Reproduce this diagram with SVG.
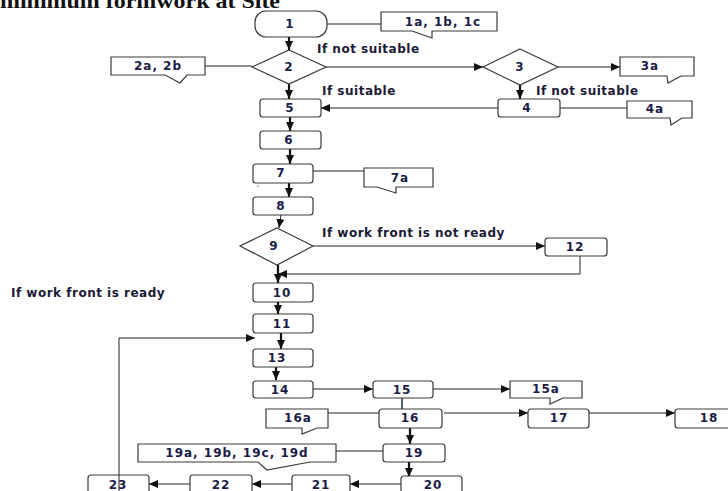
<svg xmlns="http://www.w3.org/2000/svg" width="728" height="491" viewBox="0 0 728 491">
<style>
.b{fill:#fff;stroke:#3a3a3a;stroke-width:1.2}
.t{font-family:"DejaVu Sans",Verdana,sans-serif;font-size:12px;font-weight:bold;letter-spacing:1px;fill:#1c1c48;text-anchor:middle}
.l{font-family:"DejaVu Sans",Verdana,sans-serif;font-size:12px;font-weight:bold;letter-spacing:0.5px;fill:#1a1a36}
.c{fill:none;stroke:#222;stroke-width:1}
.k{fill:none;stroke:#111;stroke-width:2.2}
</style>
<defs>
<marker id="a" markerUnits="userSpaceOnUse" markerWidth="9" markerHeight="8" refX="9" refY="4" orient="auto">
<path d="M0,0 L9,4 L0,8 z" fill="#111"/>
</marker>
</defs>
<rect width="728" height="491" fill="#fff"/>
<text x="0" y="8" textLength="280" lengthAdjust="spacingAndGlyphs" font-family="Liberation Serif, serif" font-weight="bold" font-size="22" fill="#111">minimum formwork at Site</text>

<g id="connectors">
<path class="k" d="M289,37 V50" marker-end="url(#a)"/>
<path class="c" d="M327,24 H381"/>
<path class="c" d="M205,66 H252"/>
<path class="c" d="M326,67 H483" marker-end="url(#a)"/>
<path class="c" d="M558,67 H620" marker-end="url(#a)"/>
<path class="k" d="M289,84 V99" marker-end="url(#a)"/>
<path class="k" d="M520,84 V99" marker-end="url(#a)"/>
<path class="c" d="M498,108 H321" marker-end="url(#a)"/>
<path class="c" d="M560,108 H627"/>
<path class="k" d="M290,117 V131" marker-end="url(#a)"/>
<path class="k" d="M290,149 V164" marker-end="url(#a)"/>
<path class="c" d="M313,171 H376"/>
<path class="k" d="M289,183 V197" marker-end="url(#a)"/>
<path class="c" d="M281,215 L279,228" marker-end="url(#a)"/>
<path class="c" d="M313,246 H545" marker-end="url(#a)"/>
<path class="c" d="M580,256 V274 H278" marker-end="url(#a)"/>
<path class="k" d="M278,265 V283" marker-end="url(#a)"/>
<path class="k" d="M278,302 V314" marker-end="url(#a)"/>
<path class="k" d="M281,333 V349" marker-end="url(#a)"/>
<path class="c" d="M119,491 V338 H255" marker-end="url(#a)"/>
<path class="k" d="M276,367 V380" marker-end="url(#a)"/>
<path class="c" d="M313,389 H373" marker-end="url(#a)"/>
<path class="c" d="M433,389 H510" marker-end="url(#a)"/>
<path d="M402,398 V409" stroke="#556070" stroke-width="2" fill="none"/>
<path class="c" d="M328,413 H379"/>
<path class="c" d="M444,413 H528" marker-end="url(#a)"/>
<path class="c" d="M589,413 H675" marker-end="url(#a)"/>
<path class="k" d="M410,428 V444" marker-end="url(#a)"/>
<path class="c" d="M383,451 H336"/>
<path class="k" d="M409,462 V477" marker-end="url(#a)"/>
<path class="c" d="M401,484 H350" marker-end="url(#a)"/>
<path class="c" d="M292,484 H252" marker-end="url(#a)"/>
<path class="c" d="M190,484 H149" marker-end="url(#a)"/>
</g>

<g id="n1"><rect class="b" x="255" y="11" width="72" height="26" rx="11"/><text class="t" x="290" y="28">1</text></g>
<g id="n1a"><path class="b" d="M381,12 H497 V31 H432 V38 L412,31 H381 Z"/><text class="t" x="443" y="26">1a, 1b, 1c</text></g>
<g id="n2"><path class="b" d="M289,50 L326,67 L289,84 L252,67 Z"/><text class="t" x="289" y="71">2</text></g>
<g id="n2a"><path class="b" d="M111,57 H205 V75 H187 L180,83 L165,75 H111 Z"/><text class="t" x="158" y="70">2a, 2b</text></g>
<g id="n3"><path class="b" d="M520,49 L558,67 L520,85 L483,67 Z"/><text class="t" x="520" y="71">3</text></g>
<g id="n3a"><path class="b" d="M620,57 H694 V76 H681 L668,83 L667,76 H620 Z"/><text class="t" x="650" y="70">3a</text></g>
<g id="n5"><rect class="b" x="260" y="99" width="61" height="18" rx="3"/><text class="t" x="290" y="112">5</text></g>
<g id="n4"><rect class="b" x="498" y="99" width="62" height="18" rx="3"/><text class="t" x="527" y="112">4</text></g>
<g id="n4a"><path class="b" d="M627,101 H692 V118 H682 L671,125 L670,118 H627 Z"/><text class="t" x="655" y="113">4a</text></g>
<g id="n6"><rect class="b" x="260" y="131" width="61" height="18" rx="3"/><text class="t" x="289" y="144">6</text></g>
<g id="n7"><rect class="b" x="253" y="164" width="60" height="19" rx="3"/><text class="t" x="281" y="177">7</text></g>
<g id="n7a"><path class="b" d="M364,168 H433 V187 H396 V193 L377,187 H364 Z"/><text class="t" x="400" y="182">7a</text></g>
<text x="256" y="193" font-family="DejaVu Sans, sans-serif" font-size="9" fill="#333">`</text>
<g id="n8"><rect class="b" x="253" y="197" width="60" height="18" rx="3"/><text class="t" x="281" y="210">8</text></g>
<g id="n9"><path class="b" d="M277,228 L313,246 L277,265 L240,246 Z"/><text class="t" x="274" y="250">9</text></g>
<g id="n12"><rect class="b" x="545" y="238" width="62" height="18" rx="3"/><text class="t" x="575" y="251">12</text></g>
<g id="n10"><rect class="b" x="253" y="283" width="60" height="19" rx="3"/><text class="t" x="282" y="297">10</text></g>
<g id="n11"><rect class="b" x="253" y="314" width="60" height="19" rx="3"/><text class="t" x="282" y="328">11</text></g>
<g id="n13"><rect class="b" x="253" y="349" width="60" height="18" rx="3"/><text class="t" x="277" y="362">13</text></g>
<g id="n14"><rect class="b" x="253" y="381" width="60" height="17" rx="3"/><text class="t" x="280" y="394">14</text></g>
<g id="n15"><rect class="b" x="373" y="381" width="60" height="17" rx="3"/><text class="t" x="402" y="394">15</text></g>
<g id="n15a"><path class="b" d="M510,381 H582 V398 H563 L550,404 L550,398 H510 Z"/><text class="t" x="546" y="393">15a</text></g>
<g id="n16a"><path class="b" d="M266,409 H328 V428 H317 L302,434 L302,428 H266 Z"/><text class="t" x="298" y="422">16a</text></g>
<g id="n16"><rect class="b" x="379" y="409" width="63" height="19" rx="3"/><text class="t" x="410" y="422">16</text></g>
<g id="n17"><rect class="b" x="528" y="409" width="61" height="19" rx="3"/><text class="t" x="559" y="422">17</text></g>
<g id="n18"><rect class="b" x="675" y="409" width="62" height="19" rx="3"/><text class="t" x="709" y="422">18</text></g>
<g id="n19"><rect class="b" x="383" y="444" width="62" height="18" rx="3"/><text class="t" x="414" y="457">19</text></g>
<g id="n19a"><path class="b" d="M138,444 H336 V462 H310 L267,470 L258,462 H138 Z"/><text class="t" x="237" y="457">19a, 19b, 19c, 19d</text></g>
<g id="n20"><rect class="b" x="401" y="476" width="61" height="20" rx="3"/><text class="t" x="433" y="489">20</text></g>
<g id="n21"><rect class="b" x="292" y="475" width="58" height="20" rx="3"/><text class="t" x="321" y="489">21</text></g>
<g id="n22"><rect class="b" x="190" y="475" width="62" height="20" rx="3"/><text class="t" x="221" y="489">22</text></g>
<g id="n23"><rect class="b" x="88" y="475" width="61" height="20" rx="3"/><text class="t" x="118" y="489">23</text></g>
<path class="c" d="M119,475 V491"/>

<text class="l" x="317" y="53">If not suitable</text>
<text class="l" x="322" y="95">If suitable</text>
<text class="l" x="536" y="95">If not suitable</text>
<text class="l" x="322" y="237">If work front is not ready</text>
<text class="l" x="11" y="297">If work front is ready</text>
</svg>
